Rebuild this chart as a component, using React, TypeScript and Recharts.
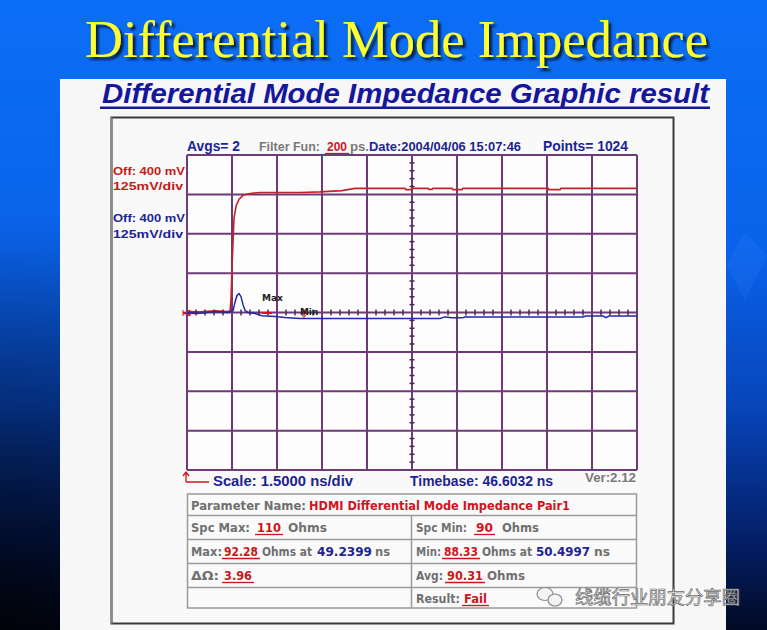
import React from 'react';
import { ComposedChart, Line, XAxis, YAxis, ReferenceLine, Scatter } from 'recharts';

// time axis (ns): timebase 46.6032 ns, 1.5 ns/div, 10 divisions
const gridTimes = [46.6032, 48.1032, 49.6032, 51.1032, 52.6032, 54.1032, 55.6032, 57.1032, 58.6032, 60.1032, 61.6032];
// vertical axis (mV): 125 mV/div, 8 divisions
const gridVolts = [-500, -375, -250, -125, 0, 125, 250, 375, 500];
const centerTime = 54.1032;
const centerVolt = 0;

// red trace: TDR step (t ns, v mV)
const redTrace = [
  { t: 46.6, v: 3 }, { t: 47.04, v: 2 }, { t: 47.54, v: 5 }, { t: 47.97, v: 3 }, { t: 48.04, v: 6 },
  { t: 48.07, v: 40 }, { t: 48.1, v: 135 }, { t: 48.14, v: 230 }, { t: 48.17, v: 300 }, { t: 48.24, v: 338 },
  { t: 48.34, v: 360 }, { t: 48.47, v: 372 }, { t: 48.7, v: 378 }, { t: 49.04, v: 381 }, { t: 49.54, v: 381 },
  { t: 50.37, v: 381 }, { t: 51.04, v: 383 }, { t: 51.77, v: 387 }, { t: 52.2, v: 394 }, { t: 53.87, v: 394 },
  { t: 53.9, v: 390 }, { t: 54.1, v: 390 }, { t: 54.13, v: 394 }, { t: 54.64, v: 394 }, { t: 54.67, v: 391 },
  { t: 54.77, v: 391 }, { t: 54.8, v: 394 }, { t: 55.44, v: 394 }, { t: 55.47, v: 390 }, { t: 55.77, v: 390 },
  { t: 55.8, v: 394 }, { t: 58.64, v: 394 }, { t: 58.67, v: 390 }, { t: 59.04, v: 390 }, { t: 59.07, v: 394 },
  { t: 61.6, v: 394 },
];

// blue trace: differential impedance response (t ns, v mV)
const blueTrace = [
  { t: 46.6, v: 0 }, { t: 47.04, v: -2 }, { t: 47.54, v: 3 }, { t: 47.97, v: 0 }, { t: 48.14, v: 6 },
  { t: 48.2, v: 32 }, { t: 48.27, v: 54 }, { t: 48.34, v: 60 }, { t: 48.4, v: 51 }, { t: 48.47, v: 25 },
  { t: 48.54, v: 6 }, { t: 48.64, v: 0 }, { t: 48.87, v: -3 }, { t: 49.1, v: -10 }, { t: 49.54, v: -13 },
  { t: 49.87, v: -16 }, { t: 50.37, v: -19 }, { t: 55.04, v: -19 }, { t: 55.2, v: -14 }, { t: 55.44, v: -17 },
  { t: 55.77, v: -17 }, { t: 55.87, v: -14 }, { t: 59.8, v: -14 }, { t: 59.9, v: -11 }, { t: 60.47, v: -11 },
  { t: 60.57, v: -16 }, { t: 60.67, v: -11 }, { t: 61.6, v: -11 },
];

// measurement markers
const markers = [
  { t: 49.2399, v: 0, label: 'Max' },
  { t: 50.4997, v: 0, label: 'Min' },
];

// graticule minor ticks on the center lines
const hTicks = gridTimes.slice(0, -1).flatMap((g) => [1, 2, 3, 4].map((k) => ({ t: g + k * 0.3, v: centerVolt })));
const vTicks = gridVolts.slice(0, -1).flatMap((g) => [1, 2, 3, 4].map((k) => ({ t: centerTime, v: g + k * 25 })));

const GRID = '#6f3a78';
const RED = '#c4222a';
const BLUE = '#1f2aa6';
const NAVY = '#1c2494';
const GRAY = '#707070';
const TRED = '#d0141e';

type TP = { x: number; y: number; w: number; size?: number; fill: string; weight?: string; family?: string; italic?: boolean; u?: boolean; children: React.ReactNode };
function T({ x, y, w, size = 12, fill, weight = 'bold', family = 'Liberation Sans, Arial, sans-serif', italic, u, children }: TP) {
  return (
    <g>
      <text x={x} y={y} fontSize={size} fill={fill} fontWeight={weight} fontFamily={family} fontStyle={italic ? 'italic' : 'normal'} textLength={w} lengthAdjust="spacingAndGlyphs">
        {children}
      </text>
      {u && <line x1={x - 2} x2={x + w + 2} y1={y + 2.5} y2={y + 2.5} stroke={fill} strokeWidth={1.3} />}
    </g>
  );
}

const TF = 'DejaVu Sans, Verdana, sans-serif';

function HTick(props: any) {
  const { cx, cy } = props;
  return <line x1={cx} x2={cx} y1={cy - 3} y2={cy + 3} stroke="#4a2a55" strokeWidth={1.5} />;
}
function VTick(props: any) {
  const { cx, cy } = props;
  return <line x1={cx - 2.5} x2={cx + 2.5} y1={cy} y2={cy} stroke="#4a2a55" strokeWidth={1.5} />;
}
function Marker(props: any) {
  const { cx, cy, payload } = props;
  if (payload.label === 'Max') {
    return (
      <g>
        <line x1={cx - 4} x2={cx + 6} y1={cy + 0.5} y2={cy + 0.5} stroke={TRED} strokeWidth={2} />
        <text x={cx - 4} y={cy - 12} fontSize={9} fontWeight="bold" fontFamily={TF} fill="#222">Max</text>
      </g>
    );
  }
  return (
    <g>
      <path d={`M${cx - 3},${cy + 1} L${cx + 3},${cy + 1} L${cx},${cy + 5} Z`} fill="none" stroke={TRED} strokeWidth={1} />
      <text x={cx - 4} y={cy + 2} fontSize={9} fontWeight="bold" fontFamily={TF} fill="#222">Min</text>
    </g>
  );
}

export default function App() {
  return (
    <div style={{ position: 'absolute', left: 0, top: 0, width: 767, height: 630, overflow: 'hidden' }}>
      <svg width={767} height={630} style={{ position: 'absolute', left: 0, top: 0 }}>
        <defs>
          <linearGradient id="bg" x1="0" y1="0" x2="0" y2="1">
            <stop offset="0" stopColor="#0b6ef6" />
            <stop offset="0.4" stopColor="#0a62ea" />
            <stop offset="0.65" stopColor="#0744b8" />
            <stop offset="0.85" stopColor="#04206a" />
            <stop offset="1" stopColor="#020a24" />
          </linearGradient>
          <radialGradient id="bgl" cx="0" cy="630" r="420" gradientUnits="userSpaceOnUse">
            <stop offset="0" stopColor="#000000" stopOpacity="0.75" />
            <stop offset="1" stopColor="#000000" stopOpacity="0" />
          </radialGradient>
          <filter id="shadow" x="-5%" y="-20%" width="110%" height="140%">
            <feDropShadow dx={3} dy={3} stdDeviation={1} floodColor="#000" floodOpacity={0.7} />
          </filter>
        </defs>
        <rect x={0} y={0} width={767} height={630} fill="url(#bg)" />
        <rect x={0} y={0} width={767} height={630} fill="url(#bgl)" />
        <polygon points="745,232 767,256 745,300 726,265" fill="#3d8dff" opacity={0.15} />

        {/* slide title */}
        <text x={85} y={57} fontSize={52} fontFamily="Liberation Serif, Times New Roman, serif" fill="#ffff2e" filter="url(#shadow)" textLength={623} lengthAdjust="spacingAndGlyphs">Differential Mode Impedance</text>

        {/* white panel */}
        <rect x={60} y={79} width={666} height={560} fill="#f7f7f7" />
        <T x={102} y={103} w={607} size={28} fill="#16169c" italic>Differential Mode Impedance Graphic result</T>
        <rect x={100} y={106.5} width={610} height={2.5} fill="#16169c" />

        {/* instrument frame */}
        <rect x={111.5} y={117.5} width={562} height={506} fill="#f9f9f9" stroke="#3a3a3a" strokeWidth={2} />
        <line x1={111.5} x2={111.5} y1={117.5} y2={623.5} stroke="#8a8a8a" strokeWidth={2} />
        <rect x={187} y={155} width={450} height={315} fill="#fdfdfd" />

        {/* chart header */}
        <T x={187} y={151} w={53} size={14} fill={NAVY}>Avgs= 2</T>
        <T x={259} y={151} w={61} size={12} fill="#7a7a7a">Filter Fun:</T>
        <T x={327} y={151} w={20} size={12} fill={TRED} u>200</T>
        <T x={350} y={151} w={19} size={12} fill="#7a7a7a">ps.</T>
        <T x={369} y={151} w={152} size={12} fill={NAVY}>Date:2004/04/06 15:07:46</T>
        <T x={543} y={151} w={85} size={14} fill={NAVY}>Points= 1024</T>

        {/* channel labels */}
        <T x={113} y={175} w={72} size={11} fill="#c81818">Off: 400 mV</T>
        <T x={113} y={190} w={70} size={11} fill="#c81818">125mV/div</T>
        <T x={113} y={222} w={72} size={11} fill={NAVY}>Off: 400 mV</T>
        <T x={113} y={238} w={70} size={11} fill={NAVY}>125mV/div</T>

        {/* reference arrow at left of center line */}
        <line x1={183} x2={199} y1={313} y2={313} stroke={TRED} strokeWidth={2.5} />
        <path d="M183,310 L183,316 M184,313 L190,310 L190,316 Z" stroke={TRED} fill={TRED} strokeWidth={1} />

        {/* bottom labels */}
        <path d="M186,482 L186,473 M183,476 L186,472 L189,476 M186,482 L209,482" stroke={TRED} strokeWidth={1.3} fill="none" />
        <T x={213} y={486} w={140} size={14} fill={NAVY}>Scale: 1.5000 ns/div</T>
        <T x={410} y={486} w={143} size={14} fill={NAVY}>Timebase: 46.6032 ns</T>
        <T x={585} y={482} w={51} size={12} fill="#7a7a7a">Ver:2.12</T>

        {/* results table */}
        <rect x={187.5} y={494} width={449} height={114} fill="#fafafa" stroke="#9a9a9a" strokeWidth={1.5} />
        <line x1={187.5} x2={636.5} y1={515.5} y2={515.5} stroke="#9a9a9a" strokeWidth={1.5} />
        <line x1={187.5} x2={636.5} y1={539.5} y2={539.5} stroke="#9a9a9a" strokeWidth={1.5} />
        <line x1={187.5} x2={636.5} y1={563.5} y2={563.5} stroke="#9a9a9a" strokeWidth={1.5} />
        <line x1={187.5} x2={636.5} y1={587.5} y2={587.5} stroke="#9a9a9a" strokeWidth={1.5} />
        <line x1={411.5} x2={411.5} y1={515.5} y2={608} stroke="#9a9a9a" strokeWidth={1.5} />

        <T x={191} y={510} w={115} size={12} fill={GRAY} family={TF}>Parameter Name:</T>
        <T x={309} y={510} w={261} size={12} fill={TRED} family={TF}>HDMI Differential Mode Impedance Pair1</T>

        <T x={191} y={532} w={59} size={12} fill={GRAY} family={TF}>Spc Max:</T>
        <T x={257} y={532} w={24} size={12} fill={TRED} family={TF} u>110</T>
        <T x={288} y={532} w={39} size={12} fill={GRAY} family={TF}>Ohms</T>
        <T x={416} y={532} w={51} size={12} fill={GRAY} family={TF}>Spc Min:</T>
        <T x={476} y={532} w={17} size={12} fill={TRED} family={TF} u>90</T>
        <T x={502} y={532} w={37} size={12} fill={GRAY} family={TF}>Ohms</T>

        <T x={191} y={556} w={31} size={12} fill={GRAY} family={TF}>Max:</T>
        <T x={224} y={556} w={34} size={12} fill={TRED} family={TF} u>92.28</T>
        <T x={262} y={556} w={50} size={12} fill={GRAY} family={TF}>Ohms at</T>
        <T x={317} y={556} w={55} size={12} fill={NAVY} family={TF}>49.2399</T>
        <T x={375} y={556} w={15} size={12} fill={GRAY} family={TF}>ns</T>
        <T x={416} y={556} w={25} size={12} fill={GRAY} family={TF}>Min:</T>
        <T x={444} y={556} w={34} size={12} fill={TRED} family={TF} u>88.33</T>
        <T x={482} y={556} w={50} size={12} fill={GRAY} family={TF}>Ohms at</T>
        <T x={536} y={556} w={54} size={12} fill={NAVY} family={TF}>50.4997</T>
        <T x={594} y={556} w={16} size={12} fill={GRAY} family={TF}>ns</T>

        <T x={191} y={580} w={28} size={12} fill={GRAY} family={TF}>ΔΩ:</T>
        <T x={224} y={580} w={28} size={12} fill={TRED} family={TF} u>3.96</T>
        <T x={416} y={580} w={27} size={12} fill={GRAY} family={TF}>Avg:</T>
        <T x={447} y={580} w={36} size={12} fill={TRED} family={TF} u>90.31</T>
        <T x={487} y={580} w={38} size={12} fill={GRAY} family={TF}>Ohms</T>

        <T x={416} y={603} w={44} size={12} fill={GRAY} family={TF}>Result:</T>
        <T x={464} y={603} w={23} size={12} fill={TRED} family={TF} u>Fail</T>

        {/* watermark */}
        <g stroke="#8a8a8a" strokeWidth={1.2} fill="#f4f4f4">
          <ellipse cx={545} cy={594} rx={8} ry={6.5} />
          <ellipse cx={555} cy={600} rx={7} ry={6} />
        </g>
        <text x={575} y={604} fontSize={18.5} fontFamily="Noto Sans CJK SC, sans-serif" fill="#ececec" stroke="#6a6a6a" strokeWidth={0.7} textLength={165} lengthAdjust="spacingAndGlyphs">线缆行业朋友分享圈</text>
      </svg>

      <div style={{ position: 'absolute', left: 186, top: 154 }}>
        <ComposedChart width={452} height={317} margin={{ top: 1, right: 1, bottom: 1, left: 1 }}>
          <XAxis dataKey="t" type="number" domain={[gridTimes[0], gridTimes[gridTimes.length - 1]]} ticks={gridTimes} allowDataOverflow hide />
          <YAxis dataKey="v" type="number" domain={[gridVolts[0], gridVolts[gridVolts.length - 1]]} ticks={gridVolts} allowDataOverflow hide />
          {gridTimes.map((t) => (
            <ReferenceLine key={'x' + t} x={t} stroke={GRID} strokeWidth={2} ifOverflow="extendDomain" />
          ))}
          {gridVolts.map((v) => (
            <ReferenceLine key={'y' + v} y={v} stroke={GRID} strokeWidth={2} ifOverflow="extendDomain" />
          ))}
          <Scatter data={hTicks} dataKey="v" shape={<HTick />} isAnimationActive={false} />
          <Scatter data={vTicks} dataKey="v" shape={<VTick />} isAnimationActive={false} />
          <Line data={redTrace} dataKey="v" type="linear" stroke={RED} strokeWidth={1.6} dot={false} isAnimationActive={false} />
          <Line data={blueTrace} dataKey="v" type="linear" stroke={BLUE} strokeWidth={1.5} dot={false} isAnimationActive={false} />
          <Scatter data={markers} dataKey="v" shape={<Marker />} isAnimationActive={false} />
        </ComposedChart>
      </div>
    </div>
  );
}
